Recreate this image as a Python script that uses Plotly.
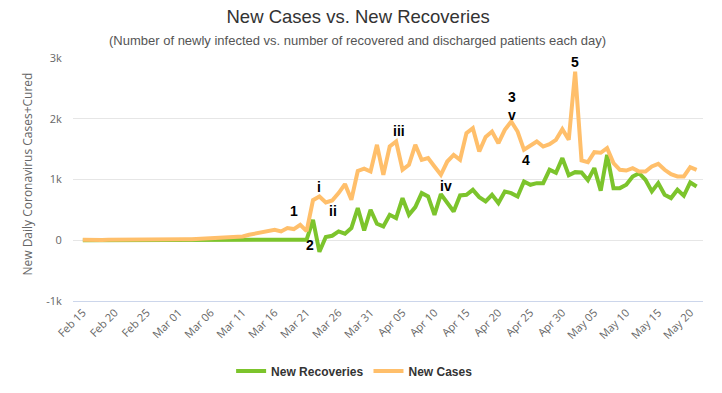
import pandas as pd
import plotly.graph_objects as go

# ---------------- data ----------------
start_date = "2020-02-15"

new_cases = [
    10, 5, 8, 5, 8, 10, 6, 8, 10, 8,          # Feb 15 - Feb 24
    12, 10, 12, 15, 12, 15, 18, 15, 20, 25,   # Feb 25 - Mar 05
    22, 30, 35, 45, 50, 63, 90, 107, 128, 145,  # Mar 06 - Mar 15
    173, 145, 200, 184, 255, 150, 660, 720, 622, 655,  # Mar 16 - Mar 25
    776, 924, 666, 1140, 1180, 1132, 1571, 1077, 1543, 1625,  # Mar 26 - Apr 04
    1160, 1242, 1571, 1324, 1352, 1214, 1077, 1296, 1406, 1324,  # Apr 05 - Apr 14
    1763, 1845, 1461, 1700, 1790, 1598, 1817, 1954, 1790, 1489,  # Apr 15 - Apr 24
    1554, 1625, 1543, 1582, 1653, 1829, 1653, 2776, 1313, 1286,  # Apr 25 - May 04
    1450, 1440, 1516, 1270, 1160, 1148, 1187, 1132, 1132, 1214,  # May 05 - May 14
    1258, 1160, 1088, 1050, 1050, 1204, 1160,                    # May 15 - May 21
]

new_recoveries = [
    0, 0, 0, 0, 0, 0, 0, 0, 0, 0,
    0, 0, 0, 0, 0, 0, 0, 0, 0, 0,
    0, 0, 0, 0, 0, 5, 5, 5, 5, 5,
    5, 5, 5, 5, 5, 10, 337, -190, 53, 74,
    145, 107, 200, 530, 161, 502, 271, 227, 419, 365,
    694, 419, 546, 776, 721, 419, 760, 612, 474, 737,
    748, 830, 710, 639, 748, 612, 803, 776, 721, 967,
    913, 940, 940, 1160, 1110, 1352, 1070, 1121, 1115, 990,
    1187, 815, 1406, 858, 858, 913, 1050, 1105, 995, 803,
    940, 748, 694, 830, 732, 951, 885,
]

y_tick_values = [-1000, 0, 1000, 2000, 3000]
y_tick_labels = ["-1k", "0", "1k", "2k", "3k"]

# annotation labels: (text, series, day index)
note_texts = ["1", "i", "ii", "2", "iii", "iv", "3<br>v", "4", "5"]
note_series = ["cases", "cases", "cases", "recov", "cases", "cases", "cases", "cases", "cases"]
note_days = [33, 37, 39, 35, 49, 56, 67, 69, 77]

dates = pd.date_range(start=start_date, periods=len(new_cases), freq="D")

# ---------------- styling ----------------
GREEN = "#7cc42c"
ORANGE = "#ffbf6b"
note_offsets = {  # (xshift, yshift) in px
    "1": (0, 18), "i": (0, 10), "ii": (1, -11), "2": (3, -5), "iii": (3, 11),
    "iv": (5, -11), "3<br>v": (1, 16), "4": (2, -10), "5": (0, 10),
}

fig = go.Figure()
fig.add_trace(go.Scatter(
    x=dates, y=new_recoveries, name="New Recoveries", mode="lines",
    line=dict(color=GREEN, width=4), hoverinfo="skip"))
fig.add_trace(go.Scatter(
    x=dates, y=new_cases, name="New Cases", mode="lines",
    line=dict(color=ORANGE, width=4), hoverinfo="skip"))

annotations = []
for t, s, d in zip(note_texts, note_series, note_days):
    yv = new_cases[d] if s == "cases" else new_recoveries[d]
    xs, ys = note_offsets[t]
    annotations.append(dict(
        x=dates[d], y=yv, xref="x", yref="y", text=t, showarrow=False,
        xshift=xs, yshift=ys, borderpad=0,
        font=dict(family="Liberation Sans, Arial", size=14, color="#000000", weight="bold")))

# subtitle
annotations.append(dict(
    xref="paper", yref="paper", x=0.452, y=1.074, xanchor="center", yanchor="middle",
    text="(Number of newly infected vs. number of recovered and discharged patients each day)",
    showarrow=False, font=dict(family="Liberation Sans, Arial", size=13, color="#555555")))
# y-axis title
annotations.append(dict(
    xref="paper", yref="paper", x=-0.072, y=0.523, xanchor="center", yanchor="middle",
    text="New Daily Coronavirus Cases+Cured", textangle=-90, showarrow=False,
    font=dict(family="Open Sans, Liberation Sans", size=12, color="#666666")))

x_start = pd.Timestamp(start_date) - pd.Timedelta(hours=37)
x_end = dates[-1] + pd.Timedelta(days=1)

fig.update_layout(
    width=722, height=393,
    margin=dict(l=73, r=19, t=58, b=92, autoexpand=False),
    paper_bgcolor="white", plot_bgcolor="white",
    title=dict(text="New Cases vs. New Recoveries", x=0.496, xref="container",
               y=0.957, yref="container", xanchor="center", yanchor="middle",
               font=dict(family="Liberation Sans, Arial", size=18.5, color="#333333")),
    showlegend=True,
    legend=dict(orientation="h", x=0.447, xanchor="center", xref="paper",
                y=0.056, yref="container", yanchor="middle",
                font=dict(family="Liberation Sans, Arial", size=12, color="#333333", weight="bold"),
                itemwidth=30, bgcolor="rgba(0,0,0,0)"),
    annotations=annotations,
    xaxis=dict(
        type="date", range=[x_start, x_end],
        tickmode="linear", tick0=start_date, dtick=5 * 86400000,
        tickformat="%b %d", tickangle=-45,
        showgrid=False, zeroline=False,
        showline=True, linecolor="#ccd6eb", linewidth=1,
        ticks="", tickfont=dict(family="Open Sans, Liberation Sans", size=11, color="#666666"),
    ),
    yaxis=dict(
        range=[-1000, 3000], tickvals=y_tick_values, ticktext=y_tick_labels,
        showgrid=True, gridcolor="#e6e6e6", gridwidth=1, zeroline=False,
        showline=False, ticks="outside", ticklen=8, tickcolor="rgba(0,0,0,0)",
        tickfont=dict(family="Open Sans, Liberation Sans", size=11, color="#666666"),
    ),
)

fig.write_html("out.html", config={"displayModeBar": False},
               post_script="document.body.style.margin='0';")
